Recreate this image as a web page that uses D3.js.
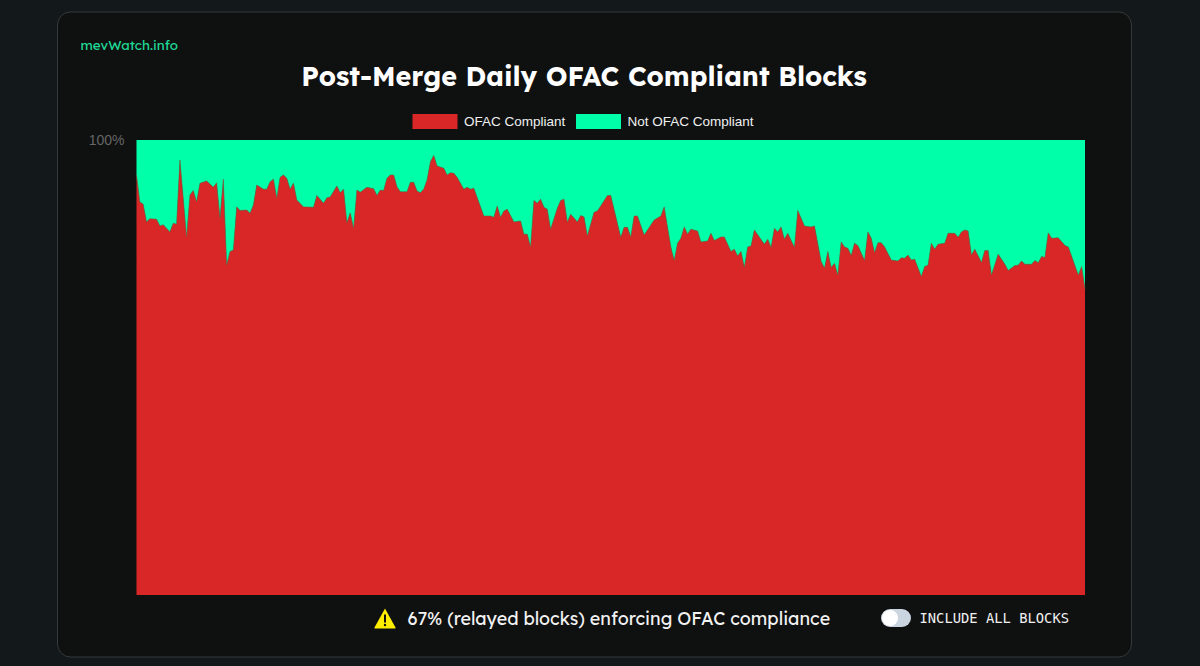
<!DOCTYPE html>
<html lang="en">
<head>
<meta charset="utf-8">
<title>Post-Merge Daily OFAC Compliant Blocks</title>
<script src="https://d3js.org/d3.v7.min.js"></script>
<style>
  html, body { margin: 0; padding: 0; background: #13191b; overflow: hidden; }
  svg { display: block; }
</style>
</head>
<body>
<svg id="chart"></svg>
<script>
// data: day since the merge and share of compliant blocks
const days = [0,1,2,3,4,6,7,8,10,11,12,13,15,16,17,18,19,21,23,24,25,26,27,28,29,30,31,33,34,35,36,38,39,40,41,42,43,44,45,46,47,48,50,51,53,54,56,57,58,60,61,62,63,64,65,66,67,69,71,72,73,74,75,76,77,78,79,81,82,83,84,85,86,87,88,89,90,92,93,94,
  95,96,98,99,100,101,104,106,107,108,109,110,111,113,115,116,117,118,119,120,121,122,123,124,126,127,128,129,130,132,133,134,135,137,138,139,141,142,145,146,147,148,149,150,152,155,157,158,160,161,162,163,164,165,166,168,169,171,172,173,175,176,178,179,180,181,182,183,184,185,188,189,
  190,191,192,193,194,195,197,198,200,202,203,205,206,207,208,209,210,211,212,213,214,215,216,218,219,220,221,222,223,224,226,228,229,230,231,232,233,235,236,237,238,239,240,242,243,245,246,247,248,249,250,251,253,254,255,256,258,260,261,263,264,265,266,268,269,270,271,272,273,274,276,278,279,282,283,284];
const compliant = [92.3,86.4,85.9,82.0,82.7,82.6,81.1,81.4,79.8,81.7,81.5,95.6,78.7,87.9,88.9,86.4,90.5,91.0,89.6,90.6,82.8,91.4,72.5,75.5,75.8,85.3,84.5,84.6,83.9,85.7,90.1,89.2,89.2,90.8,91.4,87.2,91.8,92.3,91.6,89.2,90.5,86.8,85.3,85.3,85.2,87.8,86.1,87.3,87.5,89.9,88.4,89.2,81.8,84.0,80.6,89.0,88.5,89.6,89.3,87.8,89.0,88.9,91.6,92.3,92.3,89.7,88.6,88.6,90.7,90.7,88.8,88.4,89.2,91.2,95.2,96.6,94.3,93.8,92.3,92.8,
  92.7,91.8,89.2,89.6,89.2,89.4,83.3,83.3,83.0,85.5,83.0,84.4,84.8,82.0,82.2,79.3,79.3,76.5,86.7,86.1,87.0,85.2,84.8,80.4,85.0,86.7,87.0,81.9,83.7,82.0,83.4,83.1,78.9,84.1,84.4,85.5,87.8,87.8,78.6,80.8,80.8,78.7,83.3,83.3,79.1,82.4,83.3,85.3,76.5,73.5,77.3,78.4,80.9,79.3,80.4,80.0,77.6,77.8,79.5,77.9,78.7,78.7,75.5,76.0,74.5,75.5,72.0,76.5,76.7,80.2,77.1,78.2,
  76.4,80.6,79.8,80.9,78.2,79.5,76.4,84.5,81.1,80.9,81.1,73.3,71.8,75.5,72.0,72.9,70.3,77.6,76.5,76.2,74.6,77.3,76.8,73.5,79.8,78.4,75.2,77.4,77.4,76.5,73.6,73.4,74.1,74.0,74.7,73.6,73.8,70.0,72.2,72.5,77.3,76.0,77.1,77.3,79.5,79.5,78.6,79.8,80.2,80.0,74.7,76.0,73.1,75.7,75.7,70.3,74.9,72.7,71.3,72.4,72.5,73.4,72.7,72.7,73.5,73.0,74.4,74.2,79.6,78.4,78.5,76.8,76.5,70.3,72.2,67.3];
const seriesNames = ["OFAC Compliant", "Not OFAC Compliant"];
const seriesColors = ["#d92727", "#00ffa9"];
const yTicks = [100];

const width = 1200, height = 666;
const plot = { left: 136.5, right: 1085, top: 140, bottom: 595 };

const svg = d3.select("#chart").attr("width", width).attr("height", height);

// card
svg.append("rect")
  .attr("x", 57.5).attr("y", 12).attr("width", 1074).attr("height", 645)
  .attr("rx", 13)
  .attr("fill", "#0f1010")
  .attr("stroke", "#34393a");

svg.append("text")
  .attr("x", 80.5).attr("y", 50)
  .attr("font-family", "Lexend, Lato, sans-serif")
  .attr("font-size", 13.4)
  .attr("fill", "#1fdc98")
  .text("mevWatch.info");

svg.append("text")
  .attr("x", 584).attr("y", 86)
  .attr("text-anchor", "middle")
  .attr("font-family", "Lexend, Lato, sans-serif")
  .attr("font-weight", 700)
  .attr("font-size", 26.9)
  .attr("fill", "#fff")
  .text("Post-Merge Daily OFAC Compliant Blocks");

// scales
const x = d3.scaleLinear().domain([0, d3.max(days)]).range([plot.left, plot.right]);
const y = d3.scaleLinear().domain([0, 100]).range([plot.bottom, plot.top]);

// stacked areas
const rows = days.map((d, i) => ({ day: d, compliant: compliant[i], other: 100 - compliant[i] }));
const stack = d3.stack().keys(["compliant", "other"]);
const area = d3.area()
  .x(d => x(d.data.day))
  .y0(d => y(d[0]))
  .y1(d => y(d[1]));

svg.append("g").selectAll("path")
  .data(stack(rows))
  .join("path")
  .attr("d", area)
  .attr("fill", (d, i) => seriesColors[i]);

// muted border along the boundary
svg.append("path")
  .datum(rows)
  .attr("d", d3.line().x(d => x(d.day)).y(d => y(d.compliant)))
  .attr("fill", "none")
  .attr("stroke", "#8a5a3a")
  .attr("stroke-opacity", 0.55)
  .attr("stroke-width", 1);

// y axis, only the top tick is shown
const yAxis = d3.axisLeft(y).tickValues(yTicks).tickSize(0).tickPadding(12).tickFormat(d => d + "%");
const yG = svg.append("g")
  .attr("transform", `translate(${plot.left},0)`)
  .call(yAxis);
yG.select(".domain").remove();
yG.selectAll("text")
  .attr("font-family", "'Liberation Sans', Arial, sans-serif")
  .attr("font-size", 14)
  .attr("fill", "#666");

// legend
const legendX = [412.5, 576];
const legend = svg.append("g").selectAll("g")
  .data(seriesNames)
  .join("g")
  .attr("transform", (d, i) => `translate(${legendX[i]},114)`);
legend.append("rect")
  .attr("width", 45).attr("height", 15)
  .attr("fill", (d, i) => seriesColors[i]);
legend.append("text")
  .attr("x", 51.5).attr("y", 12)
  .attr("font-family", "'Liberation Sans', Arial, sans-serif")
  .attr("font-size", 13.5)
  .attr("fill", "#f0f0f0")
  .text(d => d);

// warning line
const warn = svg.append("g").attr("transform", "translate(374,608)");
warn.append("path")
  .attr("d", "M11,0.5 L21.5,19.5 Q22,20.5 21,20.5 L1,20.5 Q0,20.5 0.5,19.5 Z")
  .attr("fill", "#ffee00");
warn.append("rect").attr("x", 10).attr("y", 6.5).attr("width", 2).attr("height", 8).attr("fill", "#111");
warn.append("circle").attr("cx", 11).attr("cy", 17).attr("r", 1.2).attr("fill", "#111");

svg.append("text")
  .attr("x", 407.5).attr("y", 624.5)
  .attr("font-family", "Lexend, Lato, sans-serif")
  .attr("font-size", 17.9)
  .attr("fill", "#f2f2f2")
  .text("67% (relayed blocks) enforcing OFAC compliance");

// toggle
svg.append("rect")
  .attr("x", 881).attr("y", 609).attr("width", 30).attr("height", 18).attr("rx", 9)
  .attr("fill", "#cbd5e0");
svg.append("circle")
  .attr("cx", 890).attr("cy", 618).attr("r", 8)
  .attr("fill", "#fff");
svg.append("text")
  .attr("x", 919.5).attr("y", 623)
  .attr("font-family", "'DejaVu Sans Mono', monospace")
  .attr("font-size", 13.8)
  .attr("fill", "#f0f0f0")
  .text("INCLUDE ALL BLOCKS");
</script>
</body>
</html>
